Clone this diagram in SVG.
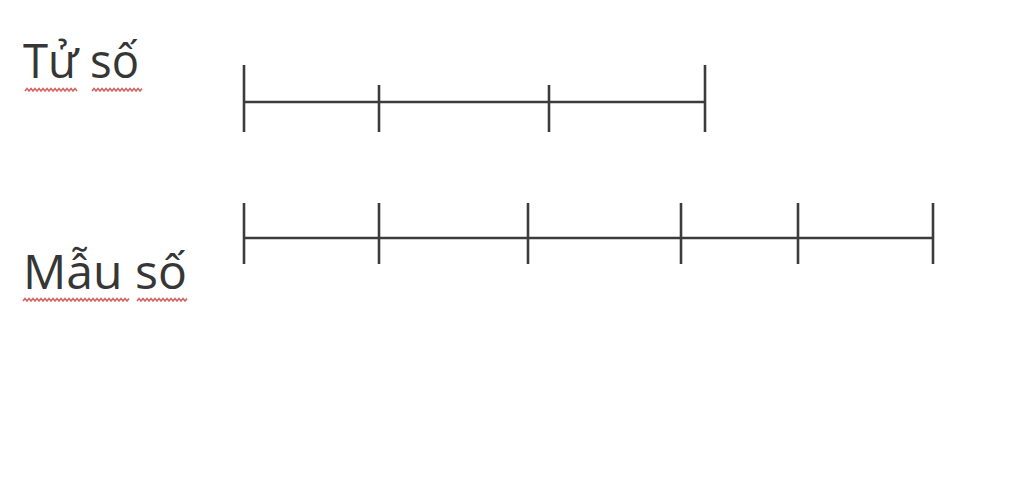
<svg xmlns="http://www.w3.org/2000/svg" width="1024" height="490" viewBox="0 0 1024 490">
<style>
.lbl{font-family:"Open Sans","Noto Sans",sans-serif;font-size:47px;fill:#363636}
.ln{stroke:#3c3c3c;stroke-width:2.6;fill:none;stroke-linecap:butt}
.sq{stroke:#cc4a48;stroke-width:1.6;fill:none;opacity:0.85}
</style>
<rect width="1024" height="490" fill="#ffffff"/>
<g id="tu-so">
<text class="lbl" x="23" y="78" textLength="116" lengthAdjust="spacingAndGlyphs">Tử số</text>
<path class="sq" d="M25,91 l2,-2.5 l2,2.5 l2,-2.5 l2,2.5 l2,-2.5 l2,2.5 l2,-2.5 l2,2.5 l2,-2.5 l2,2.5 l2,-2.5 l2,2.5 l2,-2.5 l2,2.5 l2,-2.5 l2,2.5 l2,-2.5 l2,2.5 l2,-2.5 l2,2.5 l2,-2.5 l2,2.5 l2,-2.5 l2,2.5 l2,-2.5 l2,2.5"/>
<path class="sq" d="M92,91 l2,-2.5 l2,2.5 l2,-2.5 l2,2.5 l2,-2.5 l2,2.5 l2,-2.5 l2,2.5 l2,-2.5 l2,2.5 l2,-2.5 l2,2.5 l2,-2.5 l2,2.5 l2,-2.5 l2,2.5 l2,-2.5 l2,2.5 l2,-2.5 l2,2.5 l2,-2.5 l2,2.5 l2,-2.5 l2,2.5 l2,-2.5"/>
</g>
<g id="mau-so">
<text class="lbl" x="23" y="289" textLength="164" lengthAdjust="spacingAndGlyphs">Mẫu số</text>
<path class="sq" d="M23,301 l2,-2.5 l2,2.5 l2,-2.5 l2,2.5 l2,-2.5 l2,2.5 l2,-2.5 l2,2.5 l2,-2.5 l2,2.5 l2,-2.5 l2,2.5 l2,-2.5 l2,2.5 l2,-2.5 l2,2.5 l2,-2.5 l2,2.5 l2,-2.5 l2,2.5 l2,-2.5 l2,2.5 l2,-2.5 l2,2.5 l2,-2.5 l2,2.5 l2,-2.5 l2,2.5 l2,-2.5 l2,2.5 l2,-2.5 l2,2.5 l2,-2.5 l2,2.5 l2,-2.5 l2,2.5 l2,-2.5 l2,2.5 l2,-2.5 l2,2.5 l2,-2.5 l2,2.5 l2,-2.5 l2,2.5 l2,-2.5 l2,2.5 l2,-2.5 l2,2.5 l2,-2.5 l2,2.5 l2,-2.5 l2,2.5 l2,-2.5"/>
<path class="sq" d="M137,301 l2,-2.5 l2,2.5 l2,-2.5 l2,2.5 l2,-2.5 l2,2.5 l2,-2.5 l2,2.5 l2,-2.5 l2,2.5 l2,-2.5 l2,2.5 l2,-2.5 l2,2.5 l2,-2.5 l2,2.5 l2,-2.5 l2,2.5 l2,-2.5 l2,2.5 l2,-2.5 l2,2.5 l2,-2.5 l2,2.5 l2,-2.5"/>
</g>
<g id="bar-tu-so">
<line class="ln" x1="244" y1="102" x2="705" y2="102"/>
<line class="ln" x1="244" y1="65" x2="244" y2="132"/>
<line class="ln" x1="379" y1="85" x2="379" y2="132"/>
<line class="ln" x1="549" y1="85" x2="549" y2="132"/>
<line class="ln" x1="705" y1="65" x2="705" y2="132"/>
</g>
<g id="bar-mau-so">
<line class="ln" x1="244" y1="238" x2="933" y2="238"/>
<line class="ln" x1="244" y1="203" x2="244" y2="264"/>
<line class="ln" x1="379" y1="203" x2="379" y2="264"/>
<line class="ln" x1="528" y1="203" x2="528" y2="264"/>
<line class="ln" x1="681" y1="203" x2="681" y2="264"/>
<line class="ln" x1="798" y1="203" x2="798" y2="264"/>
<line class="ln" x1="933" y1="203" x2="933" y2="264"/>
</g>
<g id="connectors"></g>
</svg>
